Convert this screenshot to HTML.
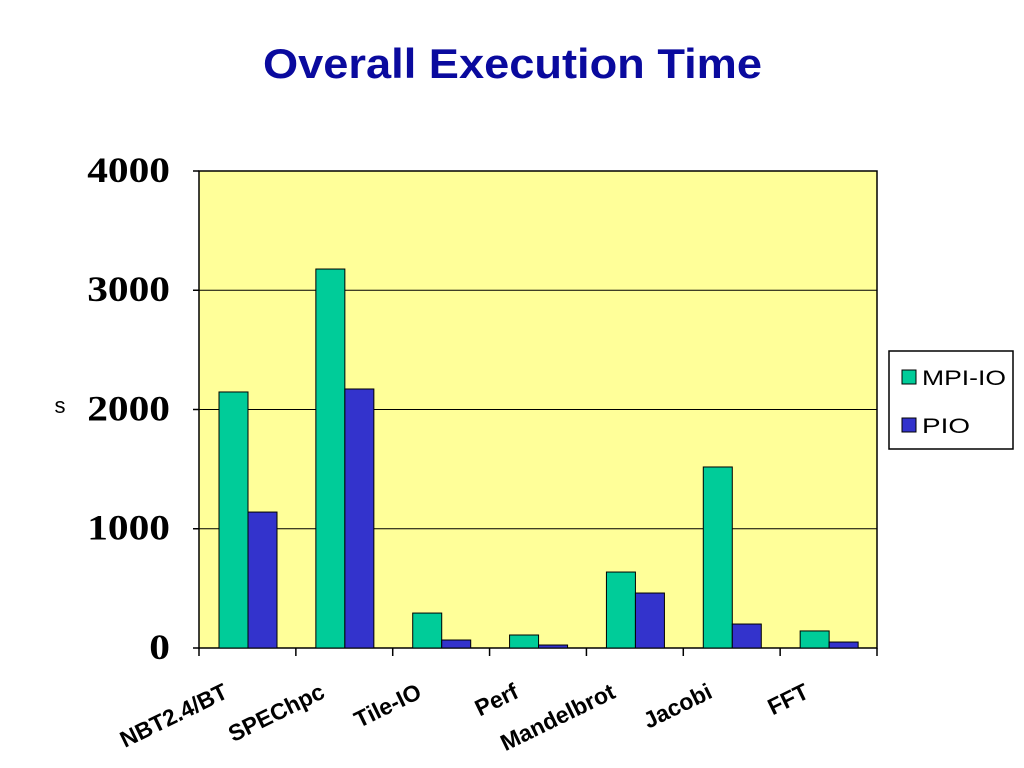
<!DOCTYPE html>
<html><head><meta charset="utf-8"><style>
body{margin:0;background:#fff;}
svg{display:block;font-family:"Liberation Sans",Arial,sans-serif;}
</style></head><body>
<svg width="1024" height="768" viewBox="0 0 1024 768">
<text x="263" y="78" textLength="499" lengthAdjust="spacingAndGlyphs" font-size="42" font-weight="bold" fill="#0a0a9e">Overall Execution Time</text>
<rect x="199" y="171" width="678" height="477" fill="#ffff99" stroke="#000" stroke-width="1.5"/>
<g id="grid"></g><g id="bars"></g><g id="axes"></g>
<text x="60" y="413" text-anchor="middle" font-size="22">s</text>
<g>
<rect x="889" y="351" width="124" height="98" fill="#fff" stroke="#000" stroke-width="1.5"/>
<rect x="902" y="370" width="14" height="14" fill="#00cc99" stroke="#000"/>
<text x="922" y="385" font-size="21" textLength="84" lengthAdjust="spacingAndGlyphs">MPI-IO</text>
<rect x="902" y="418" width="14" height="14" fill="#3333cc" stroke="#000"/>
<text x="922" y="433" font-size="21" textLength="48" lengthAdjust="spacingAndGlyphs">PIO</text>
</g>
</svg>
<script>
const categories=["NBT2.4/BT","SPEChpc","Tile-IO","Perf","Mandelbrot","Jacobi","FFT"];
const mpiio=[2147,3178,293,109,637,1518,143];
const pio=[1140,2172,67,25,461,201,50];
const yTicks=[0,1000,2000,3000,4000];
const NS="http://www.w3.org/2000/svg";
const X0=199,X1=877,Y0=648,Y1=171,YMAX=4000;
const cw=(X1-X0)/categories.length;
function y(v){return Y0-(v/YMAX)*(Y0-Y1);}
function mk(t,a,p){const e=document.createElementNS(NS,t);for(const k in a)e.setAttribute(k,a[k]);document.getElementById(p).appendChild(e);return e;}
yTicks.forEach(t=>{
  if(t>0&&t<YMAX){const l=mk('line',{x1:X0,x2:X1,y1:y(t),y2:y(t),stroke:'#000','stroke-width':1},'grid');
  
  }
  const tk=mk('line',{x1:X0-6,x2:X0,y1:y(t),y2:y(t),stroke:'#000','stroke-width':1.5},'axes');
  
  
  const tx=mk('text',{x:X0-29,y:y(t)+11,'text-anchor':'end','font-size':36,'font-weight':'bold','font-family':'"Liberation Serif",serif',transform:`translate(${X0-29} 0) scale(1.15 1) translate(${-(X0-29)} 0)`},'axes');
  tx.textContent=t;
  
  
});
categories.forEach((c,i)=>{
  const x=X0+i*cw, bw=29, gx=x+20;
  const b1=mk('rect',{x:gx,y:y(mpiio[i]),width:bw,height:Y0-y(mpiio[i]),fill:'#00cc99',stroke:'#000','stroke-width':1},'bars');
  
  
  const b2=mk('rect',{x:gx+bw,y:y(pio[i]),width:bw,height:Y0-y(pio[i]),fill:'#3333cc',stroke:'#000','stroke-width':1},'bars');
  
  
  const cx=x+cw/2-18, cy=697;
  const tx=mk('text',{x:cx,y:cy,'text-anchor':'end','font-size':23,'font-weight':'bold',transform:`rotate(-26 ${cx} ${cy})`},'axes');
  tx.textContent=c;
  
  
});
for(let i=0;i<=categories.length;i++){
  const t=mk('line',{x1:X0+i*cw,x2:X0+i*cw,y1:Y0,y2:Y0+8,stroke:'#000','stroke-width':1.5},'axes');
  
  
}
</script>
</body></html>
